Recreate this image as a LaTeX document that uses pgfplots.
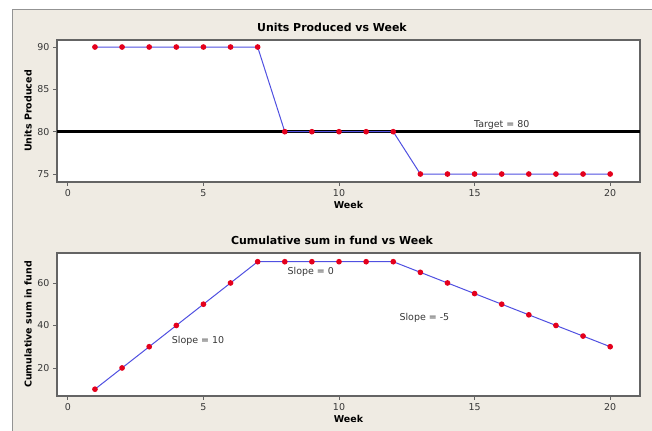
\documentclass[border=0pt]{standalone}
\usepackage{fontspec}
\setmainfont{DejaVu Sans}
\usepackage{pgfplots}
\pgfplotsset{compat=1.18}

\definecolor{bgbeige}{RGB}{239,235,227}
\definecolor{lineblue}{RGB}{80,80,225}
\definecolor{dotred}{RGB}{228,0,28}
\definecolor{framegray}{RGB}{100,100,100}
\definecolor{ticktext}{RGB}{55,55,55}

\pgfplotsset{
  every axis title shift=0pt,
  minitab/.style={
    scale only axis,
    width=583bp,
    xmin=-0.4, xmax=21.1,
    xtick={0,5,10,15,20},
    axis background/.style={fill=white},
    axis line style={framegray, line width=1.1bp},
    tick style={framegray, line width=0.8bp},
    tick align=outside, major tick length=4bp,
    xtick pos=left, ytick pos=left,
    ticklabel style={font=\fontsize{9.5}{11}\selectfont, text=ticktext},
    /pgf/number format/assume math mode=true,
    xlabel=Week,
    label style={font=\bfseries\fontsize{9.5}{11}\selectfont},
    xlabel style={at={(axis description cs:0.5,0)}, anchor=north, yshift=-19bp, inner sep=0pt},
    title style={font=\bfseries\fontsize{11}{13}\selectfont,
      at={(axis description cs:0.4717,1)}, anchor=south, yshift=8bp, inner sep=0pt},
  },
  series/.style={lineblue, line width=1bp, mark=*, mark size=2.3bp,
    mark options={fill=dotred, draw=dotred}},
}

\begin{document}
\begin{tikzpicture}
  \path[use as bounding box] (0,0) rectangle (652bp,431bp);
  \fill[white] (0,0) rectangle (652bp,431bp);
  \fill[bgbeige] (12bp,0) rectangle (652bp,421bp);
  \draw[framegray!70, line width=1bp] (12bp,0) -- (12bp,421bp) -- (652bp,421bp);

  % top panel
  \begin{axis}[minitab,
      at={(57bp,391bp)}, anchor=north west,
      height=142bp,
      ymin=74.06, ymax=90.83,
      ytick={75,80,85,90},
      title={Units Produced vs Week},
      ylabel={Units Produced},
      ylabel style={at={(axis description cs:-0.0497,0.5)}, anchor=center},
    ]
    \addplot[black, line width=2.6bp, forget plot] coordinates {(-0.4,80) (21.1,80)};
    \addplot[series] coordinates {
      (1,90) (2,90) (3,90) (4,90) (5,90) (6,90) (7,90)
      (8,80) (9,80) (10,80) (11,80) (12,80)
      (13,75) (14,75) (15,75) (16,75) (17,75) (18,75) (19,75) (20,75)};
    \node[font=\fontsize{9.5}{11}\selectfont, text=ticktext] at (axis cs:16,80.85) {Target = 80};
  \end{axis}

  % bottom panel
  \begin{axis}[minitab,
      at={(57bp,178bp)}, anchor=north west,
      height=143bp,
      ymin=6.8, ymax=74.1,
      ytick={20,40,60},
      title={Cumulative sum in fund vs Week},
      ylabel={Cumulative sum in fund},
      ylabel style={at={(axis description cs:-0.0497,0.5)}, anchor=center},
    ]
    \addplot[series] coordinates {
      (1,10) (2,20) (3,30) (4,40) (5,50) (6,60) (7,70)
      (8,70) (9,70) (10,70) (11,70) (12,70)
      (13,65) (14,60) (15,55) (16,50) (17,45) (18,40) (19,35) (20,30)};
    \node[font=\fontsize{9.5}{11}\selectfont, text=ticktext] at (axis cs:4.8,32.7) {Slope = 10};
    \node[font=\fontsize{9.5}{11}\selectfont, text=ticktext] at (axis cs:8.96,65.2) {Slope = 0};
    \node[font=\fontsize{9.5}{11}\selectfont, text=ticktext] at (axis cs:13.15,43.5) {Slope = -5};
  \end{axis}
\end{tikzpicture}
\end{document}
